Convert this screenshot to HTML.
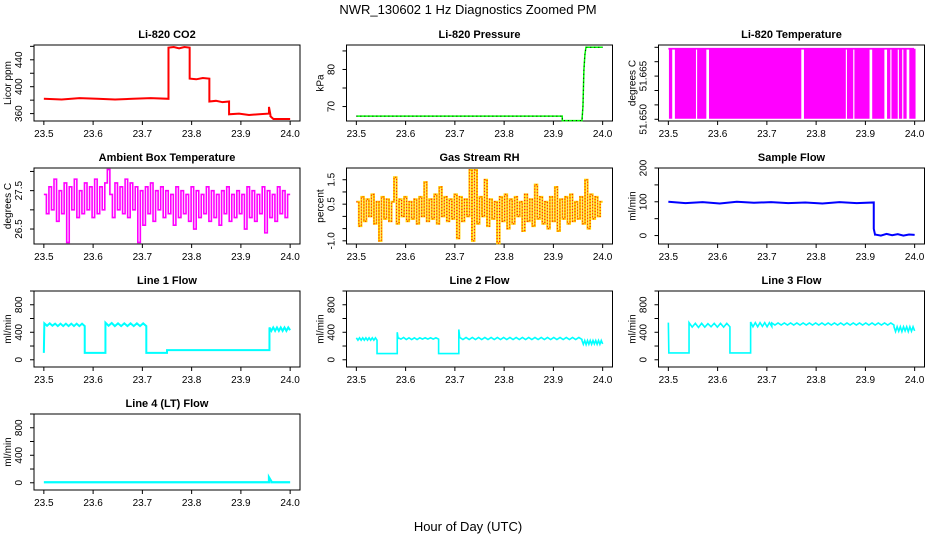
<!DOCTYPE html>
<html><head><meta charset="utf-8"><style>
html,body{margin:0;padding:0;background:#fff;}
svg{display:block;font-family:"Liberation Sans",sans-serif;}
</style></head><body>
<svg id="chart" width="936" height="540" viewBox="0 0 936 540" xmlns="http://www.w3.org/2000/svg">
<text x="468" y="14" text-anchor="middle" font-size="13">NWR_130602  1 Hz Diagnostics Zoomed PM</text>
<text x="468" y="531" text-anchor="middle" font-size="13">Hour of Day (UTC)</text>
</svg>
<script>
// ---------- data ----------
const xTicks = [23.5, 23.6, 23.7, 23.8, 23.9, 24.0];
const xTickLabels = ["23.5", "23.6", "23.7", "23.8", "23.9", "24.0"];

const co2Start = [23.5, 23.753, 23.796, 23.836, 23.876, 23.957, 23.96, 23.966];
const co2End   = [23.753, 23.796, 23.836, 23.876, 23.957, 23.96, 23.966, 24.0];
const co2Vals  = [[382,381,383,382,381,382,383,382],[458,459,457,459,458],[412,411,413,412],[378,379,377,378],[359,360,358,359,360],[370,358],[356,352],[352,352]];

const presStart = [23.5, 23.918, 23.958, 23.966];
const presEnd   = [23.918, 23.958, 23.966, 24.0];
const presVals  = [[67.4,67.4],[66.2,66.2],[66.2,70,80,84,85.9],[86,86]];

const tempLow = 51.6505, tempHigh = 51.6745;
const tempCodes = "10111010101010101011010101110101010101010101010101010101010101010101010101010101010101010111010101010101010101010101010110101101010101011101010101110110101101101110101";

const ambVals = [27.4,26.9,27.6,27.0,27.8,26.7,27.5,26.9,27.7,26.15,27.6,27.0,27.8,26.8,27.5,26.9,27.7,27.0,27.6,26.8,27.8,26.9,27.6,27.0,27.7,28.05,27.4,26.8,27.7,27.0,27.6,26.9,27.8,26.8,27.7,27.0,27.6,26.15,27.5,26.6,27.6,26.9,27.7,26.7,27.5,27.0,27.6,26.8,27.5,26.9,27.4,26.6,27.6,26.8,27.5,26.9,27.4,26.7,27.6,26.5,27.5,26.8,27.4,26.9,27.6,26.7,27.5,26.8,27.4,26.6,27.5,26.9,27.6,26.7,27.4,26.8,27.5,26.9,27.4,26.5,27.6,26.8,27.5,26.7,27.4,26.9,27.6,26.4,27.5,26.8,27.4,26.7,27.6,26.9,27.5,26.8,27.4];

const rhVals = [0.6,-0.4,0.8,-0.2,0.7,0.0,0.9,-0.3,0.6,-1.0,0.8,-0.1,0.7,-0.2,0.6,1.6,-0.3,0.7,0.0,0.8,-0.2,0.6,-0.1,0.7,-0.3,0.8,0.0,1.4,-0.2,0.7,-0.1,0.9,-0.3,1.2,0.0,0.8,-0.2,0.7,-0.1,0.9,-0.9,0.8,-0.2,0.7,0.0,1.9,-1.0,1.9,-0.3,0.8,0.0,1.5,-0.4,0.7,-0.1,0.6,-1.1,0.8,-0.2,0.9,-0.5,0.7,-0.3,0.8,0.0,0.6,-0.6,0.9,-0.2,0.7,-0.4,1.3,-0.1,0.8,-0.3,0.6,-0.5,0.8,-0.2,1.2,-0.6,0.7,-0.1,0.8,-0.3,0.9,-0.2,0.6,-0.1,0.8,-0.3,1.5,-0.5,0.9,-0.1,0.8,0.0,0.6];

const sfStart = [23.5, 23.917, 23.92];
const sfEnd   = [23.917, 23.92, 24.0];
const sfVals  = [[100,96,99,95,100,97,99,96,98,95,99,96,98],[20,0],[3,0,5,1,4,0,3,2]];

const l1Start = [23.5, 23.501, 23.583, 23.625, 23.708, 23.75, 23.958];
const l1End   = [23.501, 23.583, 23.625, 23.708, 23.75, 23.958, 24.0];
const l1Vals  = [[100,530],[530,495,530,495,525,490,525,490,525,490,525,490,525,490,525,490],[100,100],[540,495,535,490,530,490,530,490,530,490,530,490,530,490],[100,100],[140,140],[470,420,470,420,470,420,470,420,470,420,470,430]];

const l2Start = [23.5, 23.542, 23.583, 23.585, 23.667, 23.708, 23.71, 23.958];
const l2End   = [23.542, 23.583, 23.585, 23.667, 23.708, 23.71, 23.958, 24.0];
const l2Vals  = [[320,285,320,285,320,285,320,285,320,285,320,285,320,285],[90,90],[400,300],[320,300,325,295,320,295,320,295,320,300,320,300,320,300,320,300],[90,90],[440,310],[325,295,325,295,325,295,325,295,325,295,325,295,325,295,325,295,325,295,325,295,325,295,325,295,325,295,325,295,325,295,325,295,325,295,325,295,325,295,325,295],[280,225,280,220,280,225,280,225,280,230,280,225,280,225,280,230]];

const l3Start = [23.5, 23.501, 23.542, 23.625, 23.667, 23.71, 23.958];
const l3End   = [23.501, 23.542, 23.625, 23.667, 23.71, 23.958, 24.0];
const l3Vals  = [[540,100],[100,100],[540,475,530,470,530,475,525,480,530,475,530,475,530,480],[100,100],[550,480,540,480,540,485,540,480,540,485],[535,505,535,505,535,505,535,505,535,505,535,505,535,505,535,505,535,505,535,505,535,505,535,505,535,505,535,505,535,505,535,505,535,505,535,505,535,505,535,505],[480,410,480,415,480,410,480,420,480,410,480,415,480,420]];

const l4Start = [23.5, 23.957, 23.962];
const l4End   = [23.957, 23.962, 24.0];
const l4Vals  = [[8,8],[80,20],[8,8]];

// ---------- drawing ----------
const NS = "http://www.w3.org/2000/svg";
const svg = document.getElementById("chart");
const W = 266, H = 76, XL = [23.48, 24.02];
function mk(tag, parent, attrs) {
  const e = document.createElementNS(NS, tag);
  for (const k in attrs) e.setAttribute(k, attrs[k]);
  parent.appendChild(e);
  return e;
}
function segPoints(starts, ends, vals) {
  const pts = [];
  for (let s = 0; s < starts.length; s++) {
    const v = vals[s], n = v.length;
    for (let i = 0; i < n; i++) {
      const t = n === 1 ? starts[s] : starts[s] + (ends[s] - starts[s]) * i / (n - 1);
      pts.push([t, v[i]]);
    }
  }
  return pts;
}
function stepPoints(vals) {
  const pts = [], n = vals.length;
  for (let i = 0; i < n; i++) {
    const t0 = 23.5 + 0.5 * i / n, t1 = 23.5 + 0.5 * (i + 1) / n;
    pts.push([t0, vals[i]]);
    pts.push([t1, vals[i]]);
  }
  return pts;
}
function panel(name, ox, oy, title, ylab, ylim, yt, ytl) {
  const g = mk("g", svg, {});
  
  
  const sx = x => ox + (x - XL[0]) / (XL[1] - XL[0]) * W;
  const sy = v => oy + H - (v - ylim[0]) / (ylim[1] - ylim[0]) * H;
  const box = mk("rect", g, {x: ox, y: oy, width: W, height: H, fill: "none", stroke: "#000", "stroke-width": 1});
  
  
  const tt = mk("text", g, {x: ox + W / 2, y: oy - 7, "text-anchor": "middle", "font-size": 11, "font-weight": "bold"});
  tt.textContent = title;
  
  
  for (let i = 0; i < xTicks.length; i++) {
    const x = sx(xTicks[i]);
    const tk = mk("line", g, {x1: x, y1: oy + H, x2: x, y2: oy + H + 4, stroke: "#000"});
    
    
    const tl = mk("text", g, {x: x, y: oy + H + 16, "text-anchor": "middle", "font-size": 10});
    tl.textContent = xTickLabels[i];
    
    
  }
  for (let i = 0; i < yt.length; i++) {
    const y = sy(yt[i]);
    const tk = mk("line", g, {x1: ox - 4, y1: y, x2: ox, y2: y, stroke: "#000"});
    
    
    if (ytl[i] !== "") {
      const tl = mk("text", g, {x: ox - 12, y: y, "text-anchor": "middle", "font-size": 10, transform: "rotate(-90 " + (ox - 12) + " " + y + ")"});
      tl.textContent = ytl[i];
      
      
    }
  }
  const yl = mk("text", g, {x: ox - 23, y: oy + H / 2, "text-anchor": "middle", "font-size": 10, transform: "rotate(-90 " + (ox - 23) + " " + (oy + H / 2) + ")"});
  yl.textContent = ylab;
  
  
  return {g, sx, sy};
}
function line(p, name, pts, color, width, dash) {
  const s = pts.map(q => p.sx(q[0]).toFixed(2) + "," + p.sy(q[1]).toFixed(2)).join(" ");
  const attrs = {points: s, fill: "none", stroke: color, "stroke-width": width, "stroke-linejoin": "miter"};
  if (dash) attrs["stroke-dasharray"] = dash;
  const pl = mk("polyline", p.g, attrs);
  
  
}
const C1 = 34, C2 = 346.5, C3 = 658.5;
const R1 = 45, R2 = 168, R3 = 291, R4 = 414;
const flowTicks = [0, 200, 400, 600, 800, 1000];
const flowLabels = ["0", "", "400", "", "800", ""];
const flowLim = [-105, 1000];

let p;
p = panel("co2", C1, R1, "Li-820 CO2", "Licor ppm", [349, 462], [360,380,400,420,440,460], ["360","","400","","440",""]);
line(p, "co2-series", segPoints(co2Start, co2End, co2Vals), "#ff0000", 2);

p = panel("pressure", C2, R1, "Li-820 Pressure", "kPa", [66.1, 86.6], [70,75,80,85], ["70","","80",""]);
line(p, "pressure-series", segPoints(presStart, presEnd, presVals), "#00ff00", 1.5);
line(p, "pressure-points", segPoints(presStart, presEnd, presVals), "#000", 1, "1,3");

p = panel("li820-temp", C3, R1, "Li-820 Temperature", "degrees C", [51.6494, 51.6758], [51.650,51.655,51.660,51.665,51.670,51.675], ["51.650","","","51.665","",""]);
{
  const codes = tempCodes.split("").map(Number);
  const n = codes.length, pts = [];
  for (let i = 0; i < n; i++) {
    const t = 23.5 + 0.5 * i / (n - 1);
    const v = codes[i] ? tempHigh : tempLow;
    if (i > 0) pts.push([t, codes[i - 1] ? tempHigh : tempLow]);
    pts.push([t, v]);
  }
  line(p, "li820-temp-series", pts, "#ff00ff", 1.8);
}

p = panel("ambient-temp", C1, R2, "Ambient Box Temperature", "degrees C", [26.11, 28.09], [26.5,27.0,27.5,28.0], ["26.5","","27.5",""]);
line(p, "ambient-temp-series", stepPoints(ambVals), "#ff00ff", 1.6);

p = panel("rh", C2, R2, "Gas Stream RH", "percent", [-1.13, 1.98], [-1.0,-0.5,0,0.5,1.0,1.5], ["-1.0","","","0.5","","1.5"]);
line(p, "rh-series", stepPoints(rhVals), "#ffd000", 2);
line(p, "rh-points", stepPoints(rhVals), "#ff2000", 1.2, "1,2");

p = panel("sample-flow", C3, R2, "Sample Flow", "ml/min", [-25, 200], [0,50,100,150,200], ["0","","100","","200"]);
line(p, "sample-flow-series", segPoints(sfStart, sfEnd, sfVals), "#0000ff", 2);

p = panel("line1", C1, R3, "Line 1 Flow", "ml/min", flowLim, flowTicks, flowLabels);
line(p, "line1-series", segPoints(l1Start, l1End, l1Vals), "#00ffff", 2);

p = panel("line2", C2, R3, "Line 2 Flow", "ml/min", flowLim, flowTicks, flowLabels);
line(p, "line2-series", segPoints(l2Start, l2End, l2Vals), "#00ffff", 1.6);

p = panel("line3", C3, R3, "Line 3 Flow", "ml/min", flowLim, flowTicks, flowLabels);
line(p, "line3-series", segPoints(l3Start, l3End, l3Vals), "#00ffff", 1.6);

p = panel("line4", C1, R4, "Line 4 (LT) Flow", "ml/min", flowLim, flowTicks, flowLabels);
line(p, "line4-series", segPoints(l4Start, l4End, l4Vals), "#00ffff", 2.2);
</script>
</body></html>
